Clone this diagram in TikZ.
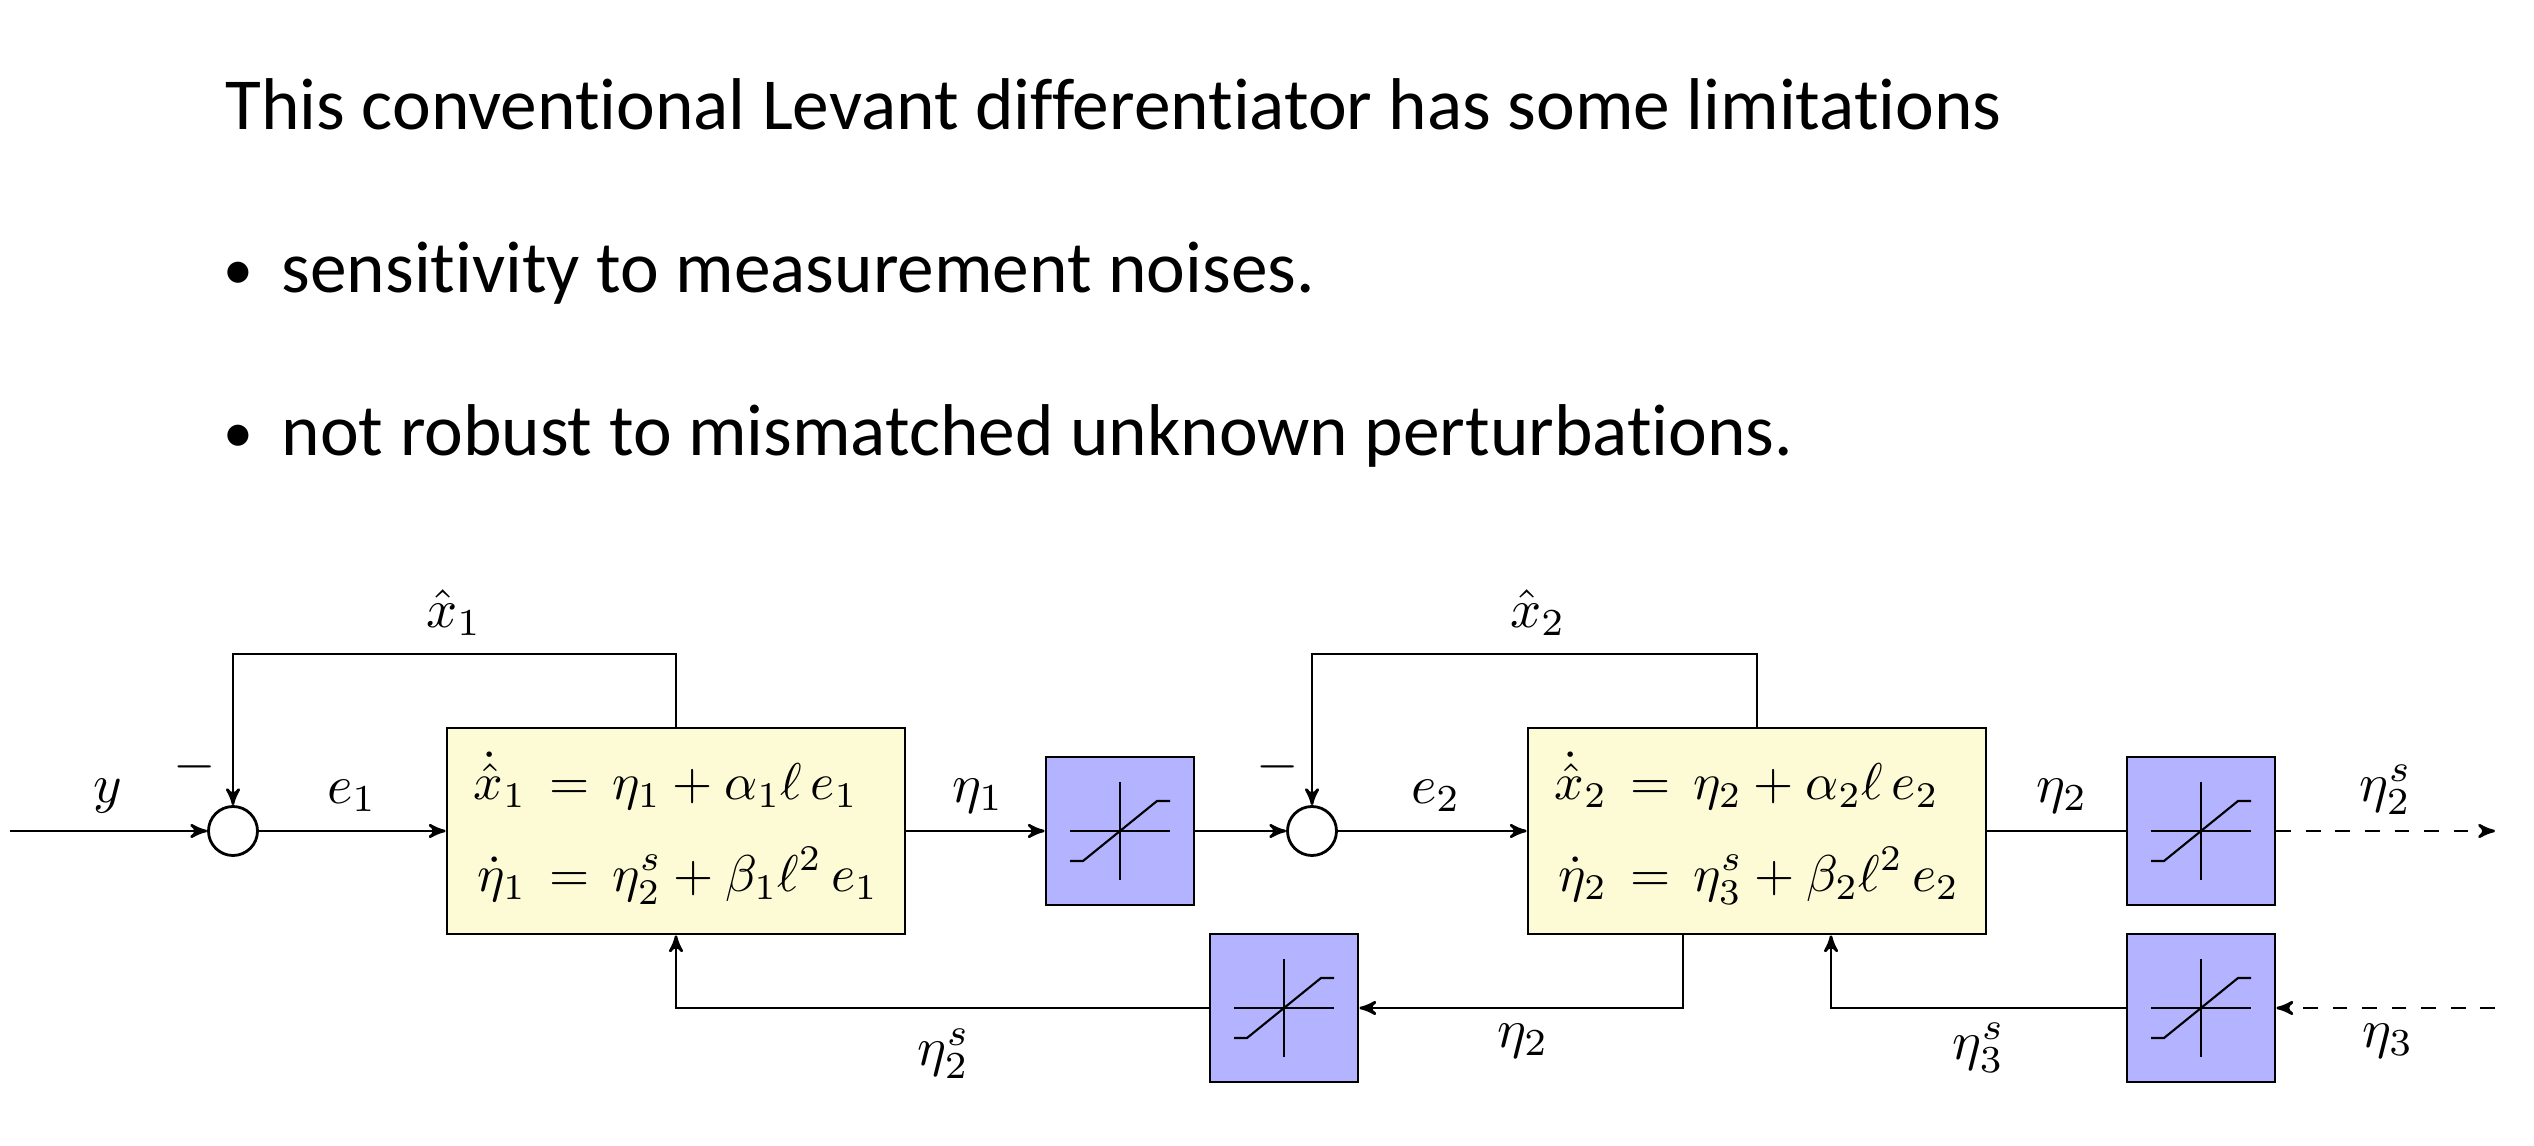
\documentclass[tikz,border=0pt]{standalone}
\usepackage{amsmath}
\usepackage{graphicx}
\usepackage{fontspec}
\setmainfont[Ligatures=NoCommon]{Carlito}
\usepackage{tikz}
\usetikzlibrary{arrows}
\definecolor{boxyellow}{RGB}{253,251,214}
\definecolor{boxblue}{RGB}{179,179,255}
\tikzset{sig/.style={->,>=stealth',line width=0.75pt},
         dsig/.style={sig,dash pattern=on 4.2pt off 4.2pt},
         block/.style={draw,line width=0.8pt,fill=boxyellow,minimum width=4.58cm,minimum height=2.06cm,inner sep=0pt},
         sat/.style={draw,line width=0.8pt,fill=boxblue,minimum size=1.48cm,inner sep=0pt},
         junction/.style={circle,draw,line width=0.8pt,fill=white,minimum size=0.49cm,inner sep=0pt},
         lab/.style={scale=1.55,inner sep=0pt},
         para/.style={anchor=base west,font=\fontsize{20.87}{24}\selectfont,inner sep=0pt}
}

\begin{document}
\begin{tikzpicture}
    \useasboundingbox (0,0) rectangle (25.34,11.46);

    \node[para] (T) at (2.25,10.16) {This conventional Levant differentiator has some limitations};
    \node[para,font=\fontsize{17}{20}\selectfont] (P1) at (2.23,8.56) {\textbullet};
    \node[para] (A) at (2.81,8.53) {sensitivity to measurement noises.};
    \node[para,font=\fontsize{17}{20}\selectfont] (P2) at (2.23,6.93) {\textbullet};
    \node[para] (N) at (2.81,6.90) {not robust to mismatched unknown perturbations.};

    \node[junction] (C1) at (2.33,3.15) {};
    \node[junction] (C2) at (13.12,3.15) {};
    \node[block] (B1) at (6.76,3.15) {\scalebox{1.47}{$\begin{aligned}
        \dot{\hat{x}}_1 &\,=\, \eta_1+\alpha_1\ell\,e_1\\[1.5pt]
        \dot{\eta}_1 &\,=\, \eta_2^s+\beta_1\ell^2\,e_1
    \end{aligned}$}};
    \node[block] (B2) at (17.57,3.15) {\scalebox{1.47}{$\begin{aligned}
        \dot{\hat{x}}_2 &\,=\, \eta_2+\alpha_2\ell\,e_2\\[1.5pt]
        \dot{\eta}_2 &\,=\, \eta_3^s+\beta_2\ell^2\,e_2
    \end{aligned}$}};
    \node[sat] (S1) at (11.20,3.15) {};
    \node[sat] (S2) at (12.84,1.38) {};
    \node[sat] (S3) at (22.01,3.15) {};
    \node[sat] (S4) at (22.01,1.38) {};

    \foreach \s in {S1,S2,S3,S4} {
        \draw[line width=0.7pt] ([xshift=-0.5cm]\s.center) -- ([xshift=0.5cm]\s.center);
        \draw[line width=0.6pt] ([yshift=-0.49cm]\s.center) -- ([yshift=0.49cm]\s.center);
        \draw[line width=0.6pt] ([shift={(-0.5,-0.3)}]\s.center) -- ([shift={(-0.37,-0.3)}]\s.center)
            -- ([shift={(0.37,0.3)}]\s.center) -- ([shift={(0.5,0.3)}]\s.center);
    }

    \coordinate (In) at (0.10,3.15);
    \coordinate (T1) at (6.76,4.92);
    \coordinate (T2) at (17.57,4.92);
    \coordinate (Out) at (24.95,3.15);
    \coordinate (Ext) at (24.95,1.38);
    \coordinate (U1) at (16.83,1.38);
    \coordinate (U2) at (18.31,1.38);

    \draw[sig] (In) -- (C1);
    \draw[sig] (C1) -- (B1);
    \draw[sig] (B1) -- (S1);
    \draw[sig] (S1) -- (C2);
    \draw[sig] (C2) -- (B2);
    \draw[line width=0.75pt] (B2) -- (S3);
    \draw[dsig] (S3) -- (Out);
    \draw[dsig] (Ext) -- (S4);
    \draw[sig] (B1.north) -- (T1) -| (C1.north);
    \draw[sig] (B2.north) -- (T2) -| (C2.north);
    \draw[sig] (S2.west) -| (B1.south);
    \draw[sig] (B2.south -| U1) -- (U1) -- (S2.east);
    \draw[sig] (S4.west) -- (U2) -- (B2.south -| U2);

    \node[lab] (Ly) at (1.08,3.50) {$y$};
    \node[lab] (Lm1) at (1.95,3.79) {$-$};
    \node[lab] (Lm2) at (12.78,3.79) {$-$};
    \node[lab] (Le1) at (3.52,3.50) {$e_1$};
    \node[lab] (Le2) at (14.36,3.50) {$e_2$};
    \node[lab] (Lx1) at (4.54,5.33) {$\hat{x}_1$};
    \node[lab] (Lx2) at (15.38,5.33) {$\hat{x}_2$};
    \node[lab] (Ln1) at (9.78,3.50) {$\eta_1$};
    \node[lab] (Ln2) at (20.62,3.50) {$\eta_2$};
    \node[lab] (Ls2) at (23.86,3.56) {$\eta_2^s$};
    \node[lab] (Lb2) at (9.44,0.92) {$\eta_2^s$};
    \node[lab] (Lc2) at (15.23,1.05) {$\eta_2$};
    \node[lab] (Lb3) at (19.79,0.98) {$\eta_3^s$};
    \node[lab] (Lc3) at (23.88,1.05) {$\eta_3$};
\end{tikzpicture}
\end{document}
